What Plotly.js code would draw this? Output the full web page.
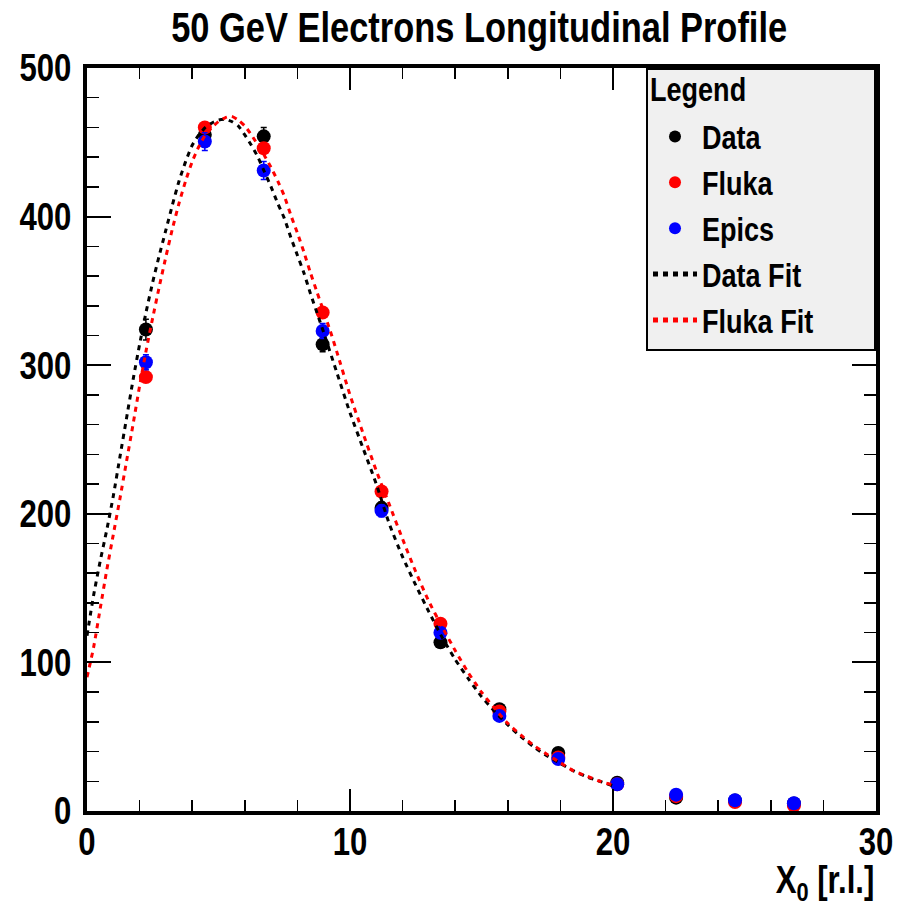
<!DOCTYPE html>
<html>
<head>
<meta charset="utf-8">
<script src="https://cdn.plot.ly/plotly-3.0.1.min.js"></script>
<style>html,body{margin:0;padding:0;background:#fff;}</style>
</head>
<body>
<div id="chart" style="width:899px;height:910px;"></div>
<script>
// Measured depths (radiation lengths)
const depth = [2.24, 4.48, 6.72, 8.96, 11.2, 13.44, 15.68, 17.92, 20.16, 22.4, 24.64, 26.88];
const dataVals  = [324, 455, 454, 314, 204, 113.5, 68.5, 39, 19, 9, 7, 5];
const dataErr   = [7, 6, 6, 5, 4, 3, 2, 2, 1.5, 1, 1, 1];
const flukaVals = [292, 460, 446, 335.5, 215, 126, 67, 36, 18, 10, 6, 3.6];
const flukaErr  = [3, 3, 3, 3, 2, 2, 1, 1, 1, 1, 1, 1];
const epicsVals = [302, 450.5, 431, 323, 202, 120, 64, 35, 18, 11, 7.2, 5.2];
const epicsErr  = [5, 6, 6, 5, 4, 3, 2, 2, 1, 1, 1, 1];

// Fit curves
const dataFitX = [0, 0.25, 0.5, 0.75, 1.0, 1.25, 1.5, 1.75, 2.0, 2.25, 2.5, 2.75, 3.0, 3.25, 3.5, 3.75, 4.0, 4.25, 4.5, 4.75, 5.0, 5.25, 5.5, 5.75, 6.0, 6.25, 6.5, 6.75, 7.0, 7.25, 7.5, 7.75, 8.0, 8.25, 8.5, 8.75, 9.0, 9.5, 10.0, 10.5, 11.0, 11.5, 12.0, 12.5, 13.0, 13.5, 14.0, 14.5, 15.0, 15.5, 16.0, 16.5, 17.0, 17.5, 18.0, 18.5, 19.0, 19.5, 20.0];
const dataFitY = [118, 145, 168, 189, 212, 238, 264, 290, 314, 336, 356, 374, 391, 408, 424, 437, 448, 455, 460, 463, 465, 465.5, 464, 461, 455, 448, 440, 430, 420, 409, 399, 386, 374, 362, 348, 335, 322, 295, 268, 244, 220, 193, 171, 152, 134, 117, 102, 89, 77, 67, 58, 50, 43, 37, 32, 27, 23, 20, 17];
const flukaFitX = [0, 0.25, 0.5, 0.75, 1.0, 1.25, 1.5, 1.75, 2.0, 2.25, 2.5, 2.75, 3.0, 3.25, 3.5, 3.75, 4.0, 4.25, 4.5, 4.75, 5.0, 5.25, 5.5, 5.75, 6.0, 6.25, 6.5, 6.75, 7.0, 7.25, 7.5, 7.75, 8.0, 8.25, 8.5, 8.75, 9.0, 9.25, 9.5, 10.0, 10.5, 11.0, 11.5, 12.0, 12.5, 13.0, 13.5, 14.0, 14.5, 15.0, 15.5, 16.0, 16.5, 17.0, 17.5, 18.0, 18.5, 19.0, 19.5, 20.0];
const flukaFitY = [90, 110, 136, 162, 186, 210, 235, 260, 286, 310, 332, 353, 373, 392, 409, 424, 437, 447, 455, 460, 464, 466.5, 467.5, 465, 461, 455, 448, 441, 433, 424, 414, 401, 389, 376, 362, 349, 336, 323, 309, 280, 254, 229, 206, 183, 161, 141, 124, 108, 93, 80, 69, 59, 51, 44, 38, 32.5, 27, 23.5, 20, 17.5];

const FONT = '"Liberation Sans", Arial, sans-serif';
const SQUEEZE = 0.82;   // condensed look of the original lettering
const LEGEND_WIDEN = 31;
const LEGEND_TITLE_LIFT = 7;
const LEGEND_TOP_TRIM = 4;

function pts(name, y, err, color, group) {
  return {
    type: 'scatter', mode: 'markers', name: name, x: depth, y: y,
    legendgroup: group,
    marker: {color: color, size: 14, line: {width: 0}},
    error_y: {type: 'data', array: err, visible: true, color: color, thickness: 1.5, width: 3}
  };
}

const traces = [
  pts('Data', dataVals, dataErr, '#000000', 'g1'),
  pts('Fluka', flukaVals, flukaErr, '#ff0000', 'g2'),
  pts('Epics', epicsVals, epicsErr, '#0000ff', 'g3'),
  {type: 'scatter', mode: 'lines', name: 'Data Fit', x: dataFitX, y: dataFitY, legendgroup: 'g4',
   line: {color: '#000000', width: 3, dash: '5px,5px', shape: 'spline', smoothing: 0.6}},
  {type: 'scatter', mode: 'lines', name: 'Fluka Fit', x: flukaFitX, y: flukaFitY, legendgroup: 'g5',
   line: {color: '#ff0000', width: 3, dash: '5px,5px', shape: 'spline', smoothing: 0.6}}
];

const layout = {
  width: 899, height: 910,
  margin: {l: 87, r: 23, t: 68, b: 99},
  paper_bgcolor: '#ffffff', plot_bgcolor: '#ffffff',
  font: {family: FONT, color: '#000000', size: 33, weight: 'bold'},
  title: {text: '<b>50 GeV Electrons Longitudinal Profile</b>', font: {family: FONT, size: 42, color: '#000'},
          x: 0.533, xanchor: 'center', xref: 'container', y: 0.970, yanchor: 'middle', yref: 'container'},
  xaxis: {
    range: [0, 30.001], dtick: 10, tick0: 0,
    showgrid: false, zeroline: false,
    showline: true, linecolor: '#000', linewidth: 4, mirror: 'ticks',
    ticks: 'inside', ticklen: 22, tickwidth: 2, tickcolor: '#000',
    minor: {dtick: 2, ticks: 'inside', ticklen: 11, tickwidth: 1.5, tickcolor: '#000', showgrid: false},
    tickfont: {family: FONT, size: 38, color: '#000', weight: 'bold'},
    ticklabelstandoff: -6,
    title: {text: ''}
  },
  yaxis: {
    range: [0, 500], dtick: 100, tick0: 0,
    showgrid: false, zeroline: false,
    showline: true, linecolor: '#000', linewidth: 4, mirror: 'ticks',
    ticks: 'inside', ticklen: 24, tickwidth: 2, tickcolor: '#000',
    minor: {dtick: 20, ticks: 'inside', ticklen: 12, tickwidth: 1.5, tickcolor: '#000', showgrid: false},
    tickfont: {family: FONT, size: 38, color: '#000', weight: 'bold'},
    ticklabelstandoff: 4,
    title: {text: ''}
  },
  showlegend: true,
  legend: {
    x: 1, xanchor: 'right', y: 1.006, yanchor: 'top',
    bgcolor: '#f0f0f0', bordercolor: '#000', borderwidth: 2,
    font: {family: FONT, size: 33, color: '#000', weight: 'bold'},
    title: {text: '<b>Legend</b>', font: {family: FONT, size: 33, color: '#000'}},
    traceorder: 'grouped', tracegroupgap: 0,
    itemwidth: 44, itemsizing: 'constant'
  },
  annotations: [{
    xref: 'paper', yref: 'paper', x: 1.0, y: -0.097, xanchor: 'right', yanchor: 'middle',
    text: '<b>X<sub>0</sub> [r.l.]</b>', showarrow: false,
    font: {family: FONT, size: 38, color: '#000'}
  }]
};

function condense(gd) {
  const NS = 'http://www.w3.org/2000/svg';
  gd.querySelectorAll('svg text').forEach(function (t) {
    let bb;
    try { bb = t.getBBox(); } catch (e) { return; }
    if (!bb || !bb.width) return;
    let anchor = t.getAttribute('text-anchor') || 'start';
    if (t.classList.contains('annotation-text')) anchor = 'end';
    const lx = anchor === 'middle' ? bb.x + bb.width / 2 : (anchor === 'end' ? bb.x + bb.width : bb.x);
    let px = lx;
    const tl = t.transform && t.transform.baseVal;
    if (tl && tl.numberOfItems) {
      const M = tl.consolidate().matrix;
      px = M.a * lx + M.c * bb.y + M.e;
    }
    const g = document.createElementNS(NS, 'g');
    let lift = t.classList.contains('legendtitletext') ? -LEGEND_TITLE_LIFT : 0;
    g.setAttribute('transform', 'translate(' + (px * (1 - SQUEEZE)) + ',' + lift + ') scale(' + SQUEEZE + ',1)');
    t.parentNode.insertBefore(g, t);
    g.appendChild(t);
  });
  // widen the legend box to the left and align its top with the frame, as in the original
  const leg = gd.querySelector('g.legend');
  if (leg) {
    const tr = leg.getAttribute('transform') || '';
    const m = /translate\(\s*([-\d.e]+)[ ,]+([-\d.e]+)\s*\)/.exec(tr);
    const bg = leg.querySelector('rect.bg');
    if (m && bg) {
      leg.setAttribute('transform', 'translate(' + (parseFloat(m[1]) - LEGEND_WIDEN) + ',' + m[2] + ')');
      bg.setAttribute('width', parseFloat(bg.getAttribute('width')) + LEGEND_WIDEN);
      const by = parseFloat(bg.getAttribute('y') || '0');
      bg.setAttribute('y', by + LEGEND_TOP_TRIM);
      bg.setAttribute('height', parseFloat(bg.getAttribute('height')) - LEGEND_TOP_TRIM);
    }
  }
}

Plotly.newPlot('chart', traces, layout, {staticPlot: true, displayModeBar: false}).then(condense);
</script>
</body>
</html>
